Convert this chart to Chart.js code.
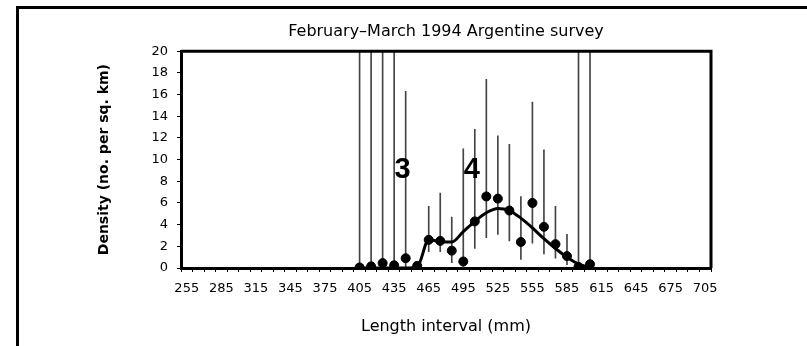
<!DOCTYPE html>
<html>
<head>
<meta charset="utf-8">
<script src="https://cdn.jsdelivr.net/npm/chart.js@4.4.1/dist/chart.umd.min.js"></script>
<style>
body { margin: 0; background: #fff; }
#wrap { position: relative; width: 807px; height: 346px; }
#frame { position: absolute; left: 16px; top: 6px; right: 0; bottom: 0; border-left: 3px solid #000; border-top: 3px solid #000; pointer-events: none; }
</style>
</head>
<body>
<div id="wrap">
<canvas id="myChart" width="807" height="346"></canvas>
<div id="frame"></div>
</div>
<script>
// length classes (mm) on the x axis
var lengths = [255, 265, 275, 285, 295, 305, 315, 325, 335, 345, 355, 365, 375, 385, 395,
    405, 415, 425, 435, 445, 455, 465, 475, 485, 495, 505, 515, 525, 535, 545,
    555, 565, 575, 585, 595, 605, 615, 625, 635, 645, 655, 665, 675, 685, 695, 705];
var tickLabels = [255, 285, 315, 345, 375, 405, 435, 465, 495, 525, 555, 585, 615, 645, 675, 705];

// observed densities with their intervals
var sampleLengths = [405, 415, 425, 435, 445, 455, 465, 475, 485, 495, 505,
    515, 525, 535, 545, 555, 565, 575, 585, 595, 605];
var density = [0.05, 0.15, 0.45, 0.25, 0.9, 0.2, 2.6, 2.5, 1.6, 0.6, 4.3,
    6.6, 6.4, 5.3, 2.4, 6.0, 3.8, 2.2, 1.1, 0.1, 0.35];
var ciLow = [0, 0, 0, 0, 0, null, 1.5, 1.5, 0.5, 0, 1.8,
    2.8, 3.1, 2.5, 0.8, 2.3, 1.3, 0.9, 0.3, 0, 0];
var ciHigh = [25, 25, 25, 25, 16.3, null, 5.7, 6.9, 4.7, 11.0, 12.8,
    17.4, 12.2, 11.4, 6.6, 15.3, 10.9, 5.7, 3.1, 25, 25];

// fitted curve
var fitLengths = [405, 415, 425, 435, 445, 455, 465, 475, 485, 495, 505,
    515, 525, 535, 545, 555, 565, 575, 585, 595, 605];
var fitDensity = [0, 0, 0, 0, 0, 0.1, 2.6, 2.45, 2.4, 3.35, 4.3,
    5.1, 5.5, 5.3, 4.6, 3.7, 2.7, 1.8, 1.0, 0.35, 0.05];

// age-class marks
var cohortLabels = ['3', '4'];
var cohortLengths = [445, 505];
var cohortHeight = 9;

function onLengths(xs, ys) {
    return lengths.map(function (l) {
        var i = xs.indexOf(l);
        return i < 0 ? null : ys[i];
    });
}

var bars = onLengths(sampleLengths, ciLow.map(function (lo, i) {
    return ciHigh[i] == null ? null : [lo, ciHigh[i]];
}));

var font = '"DejaVu Sans", Arial, sans-serif';

var boxPlugin = {
    id: 'box',
    afterDraw: function (chart) {
        var a = chart.chartArea, c = chart.ctx;
        c.save();
        c.strokeStyle = '#000';
        c.lineWidth = 3;
        c.beginPath();
        c.moveTo(a.left, a.top);
        c.lineTo(a.right, a.top);
        c.lineTo(a.right, a.bottom);
        c.stroke();
        // cohort numbers
        var xs = chart.scales.x, ys = chart.scales.y;
        c.fillStyle = '#000';
        c.font = 'bold 29px "Liberation Sans", Arial, sans-serif';
        c.textAlign = 'center';
        c.textBaseline = 'middle';
        cohortLabels.forEach(function (t, i) {
            var xi = lengths.indexOf(cohortLengths[i]);
            c.fillText(t, xs.getPixelForValue(xi) - 3, ys.getPixelForValue(cohortHeight));
        });
        c.restore();
    }
};

var ctx = document.getElementById('myChart').getContext('2d');
var myChart = new Chart(ctx, {
    type: 'line',
    data: {
        labels: lengths.map(String),
        datasets: [{
            type: 'bar',
            data: bars,
            backgroundColor: '#444',
            barThickness: 1,
            order: 3
        }, {
            type: 'line',
            data: onLengths(fitLengths, fitDensity),
            borderColor: '#000',
            borderWidth: 3,
            pointRadius: 0,
            cubicInterpolationMode: 'monotone',
            order: 2
        }, {
            type: 'line',
            data: onLengths(sampleLengths, density),
            showLine: false,
            pointRadius: 4.5,
            pointBackgroundColor: '#000',
            pointBorderColor: '#000',
            order: 1
        }]
    },
    options: {
        responsive: false,
        animation: false,
        layout: { padding: { left: 92, right: 96, top: 0, bottom: 6 } },
        plugins: {
            legend: { display: false },
            tooltip: { enabled: false },
            title: {
                display: true,
                fullSize: false,
                text: 'February\u2013March 1994 Argentine survey',
                color: '#000',
                font: { family: font, size: 16, weight: 'normal' },
                padding: { top: 22, bottom: 10 }
            }
        },
        scales: {
            x: {
                offset: true,
                grid: { drawOnChartArea: false, tickLength: 4, color: '#000' },
                border: { color: '#000', width: 3 },
                ticks: {
                    autoSkip: false,
                    maxRotation: 0,
                    color: '#000',
                    padding: 9,
                    font: { family: font, size: 13 },
                    callback: function (value) {
                        var l = this.getLabelForValue(value);
                        return tickLabels.indexOf(Number(l)) >= 0 ? l : '';
                    }
                },
                title: {
                    display: true,
                    text: 'Length interval (mm)',
                    color: '#000',
                    font: { family: font, size: 16 },
                    padding: { top: 4, bottom: 4 }
                },
                afterFit: function (s) { s.height = 72; }
            },
            y: {
                min: 0,
                max: 20,
                ticks: { stepSize: 2, color: '#000', padding: 9, font: { family: font, size: 13 } },
                grid: { drawOnChartArea: false, tickLength: 4, color: '#000' },
                border: { color: '#000', width: 3 },
                title: {
                    display: true,
                    text: 'Density (no. per sq. km)',
                    color: '#000',
                    font: { family: font, size: 14, weight: 'bold' }
                },
                afterFit: function (s) { s.width = 89; }
            }
        }
    },
    plugins: [boxPlugin]
});
</script>
</body>
</html>
